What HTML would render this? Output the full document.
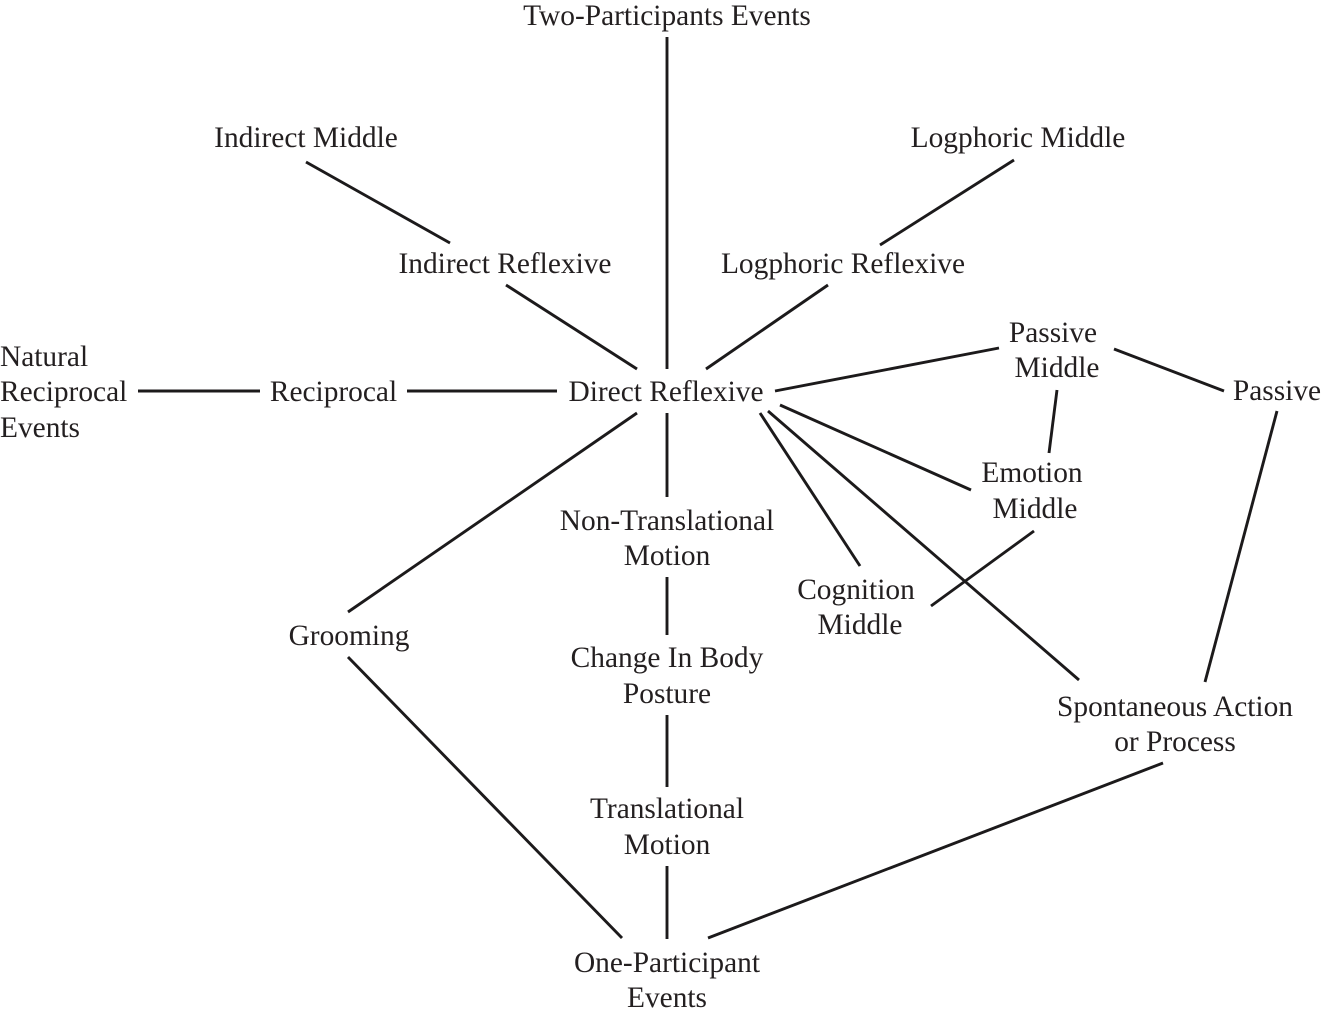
<!DOCTYPE html>
<html>
<head>
<meta charset="utf-8">
<style>
html,body{margin:0;padding:0;background:#fff;}
svg{display:block;}
text{font-family:"Liberation Serif",serif;font-size:29.4px;fill:#231f20;}
line{stroke:#1c1a1b;stroke-width:2.9;}
</style>
</head>
<body>
<svg width="1321" height="1016" viewBox="0 0 1321 1016" xmlns="http://www.w3.org/2000/svg">
<line x1="667" y1="37" x2="667" y2="369"/>
<line x1="306" y1="162" x2="450" y2="243"/>
<line x1="506" y1="285" x2="637" y2="369"/>
<line x1="1014" y1="160" x2="880" y2="245"/>
<line x1="828" y1="285" x2="706" y2="369"/>
<line x1="138" y1="391" x2="260" y2="391"/>
<line x1="407" y1="391" x2="557" y2="391"/>
<line x1="775" y1="391" x2="999" y2="348"/>
<line x1="1114" y1="349" x2="1224" y2="391"/>
<line x1="1057" y1="390" x2="1049" y2="453"/>
<line x1="780" y1="405" x2="971" y2="490"/>
<line x1="760" y1="413" x2="860" y2="566"/>
<line x1="1034" y1="531" x2="931" y2="606"/>
<line x1="768" y1="411" x2="1079" y2="680"/>
<line x1="1277" y1="411" x2="1205" y2="682"/>
<line x1="1163" y1="763" x2="708" y2="938"/>
<line x1="637" y1="413" x2="348" y2="612"/>
<line x1="348" y1="657" x2="622" y2="938"/>
<line x1="667" y1="413" x2="667" y2="497"/>
<line x1="667" y1="577" x2="667" y2="635"/>
<line x1="667" y1="715" x2="667" y2="787"/>
<line x1="667" y1="866" x2="667" y2="939"/>
<g text-anchor="middle">
<text x="667" y="25">Two-Participants Events</text>
<text x="306" y="147">Indirect Middle</text>
<text x="1018" y="147">Logphoric Middle</text>
<text x="505" y="273">Indirect Reflexive</text>
<text x="843" y="273">Logphoric Reflexive</text>
<text x="1053" y="342">Passive</text>
<text x="1057" y="377">Middle</text>
<text x="1277" y="400">Passive</text>
<text x="333.500" y="401">Reciprocal</text>
<text x="666" y="401">Direct Reflexive</text>
<text x="1032" y="482">Emotion</text>
<text x="1035" y="518">Middle</text>
<text x="667" y="530">Non-Translational</text>
<text x="667" y="565">Motion</text>
<text x="856" y="599">Cognition</text>
<text x="860" y="634">Middle</text>
<text x="349" y="645">Grooming</text>
<text x="667" y="667">Change In Body</text>
<text x="667" y="703">Posture</text>
<text x="1175" y="716">Spontaneous Action</text>
<text x="1175" y="751">or Process</text>
<text x="667" y="818">Translational</text>
<text x="667" y="854">Motion</text>
<text x="667" y="972">One-Participant</text>
<text x="667" y="1007">Events</text>
</g>
<text x="0" y="366">Natural</text>
<text x="0" y="401">Reciprocal</text>
<text x="0" y="437">Events</text>
</svg>
</body>
</html>
